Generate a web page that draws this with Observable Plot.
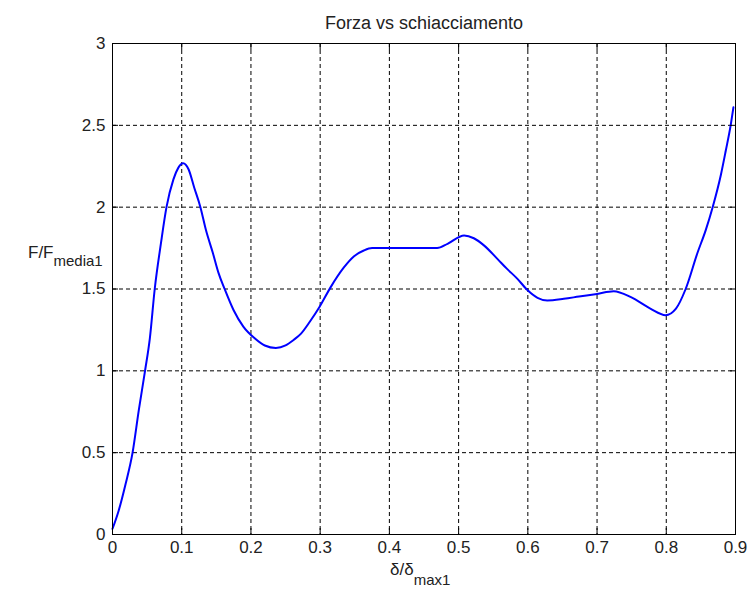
<!DOCTYPE html>
<html>
<head>
<meta charset="utf-8">
<script src="https://cdn.jsdelivr.net/npm/d3@7"></script>
<script src="https://cdn.jsdelivr.net/npm/@observablehq/plot@0.6"></script>
<style>
  html, body { margin: 0; padding: 0; background: #fff; }
  #chart { width: 751px; height: 595px; }
</style>
</head>
<body>
<div id="chart"></div>
<script>
const titleText = "Forza vs schiacciamento";
const xLabelMain = "δ/δ";
const xLabelSub = "max1";
const yLabelMain = "F/F";
const yLabelSub = "media1";

const xTicks = [0, 0.1, 0.2, 0.3, 0.4, 0.5, 0.6, 0.7, 0.8, 0.9];
const yTicks = [0, 0.5, 1, 1.5, 2, 2.5, 3];

const xValues = [0, 0.009, 0.019, 0.029, 0.038, 0.047, 0.054, 0.061, 0.070, 0.078,
  0.088, 0.095, 0.102, 0.110, 0.118, 0.127, 0.135, 0.145, 0.153, 0.162,
  0.175, 0.189, 0.205, 0.220, 0.236, 0.250, 0.262, 0.272, 0.285, 0.299,
  0.315, 0.334, 0.349, 0.363, 0.375, 0.469, 0.484, 0.508, 0.522, 0.537,
  0.556, 0.570, 0.585, 0.599, 0.614, 0.628, 0.652, 0.674, 0.700, 0.724,
  0.749, 0.777, 0.799, 0.814, 0.828, 0.845, 0.857, 0.867, 0.879, 0.886,
  0.893, 0.897];
const yValues = [0.035, 0.147, 0.31, 0.5, 0.76, 1.0, 1.2, 1.5, 1.78, 2.0,
  2.17, 2.24, 2.268, 2.23, 2.12, 2.0, 1.86, 1.72, 1.6, 1.5,
  1.37, 1.27, 1.2, 1.155, 1.14, 1.155, 1.19, 1.226, 1.3, 1.39,
  1.51, 1.63, 1.70, 1.735, 1.75, 1.75, 1.776, 1.827, 1.81, 1.765,
  1.684, 1.623, 1.562, 1.495, 1.446, 1.43, 1.44, 1.454, 1.47, 1.486,
  1.45, 1.38, 1.34, 1.38, 1.50, 1.72, 1.86, 2.0, 2.20, 2.346,
  2.5, 2.61];

const data = xValues.map((x, i) => ({x, y: yValues[i]}));

const font = "Liberation Sans, Arial, Helvetica, sans-serif";
const dash = {stroke: "#000", strokeOpacity: 1, strokeWidth: 1, strokeDasharray: "4,3"};
const fmt = d => String(d);

const chart = Plot.plot({
  width: 751,
  height: 595,
  marginLeft: 112,
  marginRight: 16,
  marginTop: 43,
  marginBottom: 61,
  x: {domain: [0, 0.9]},
  y: {domain: [0, 3]},
  style: {fontFamily: font, fontSize: "17px", color: "#000", background: "#fff", overflow: "visible"},
  marks: [
    Plot.gridX(xTicks, dash),
    Plot.gridY(yTicks, dash),
    Plot.line(data, {x: "x", y: "y", stroke: "#0000ff", strokeWidth: 2, curve: "monotone-x"}),
    Plot.frame({stroke: "#000", strokeWidth: 1}),
    Plot.axisX(xTicks, {anchor: "bottom", tickSize: 6, dy: -6, tickFormat: () => "", label: null, strokeOpacity: 1}),
    Plot.axisX(xTicks, {anchor: "top", tickSize: 6, dy: 6, tickFormat: () => "", label: null, strokeOpacity: 1}),
    Plot.axisY(yTicks, {anchor: "left", tickSize: 6, dx: 6, tickFormat: () => "", label: null, strokeOpacity: 1}),
    Plot.axisY(yTicks, {anchor: "right", tickSize: 6, dx: -6, tickFormat: () => "", label: null, strokeOpacity: 1}),
    Plot.axisX(xTicks, {anchor: "bottom", tickSize: 0, tickPadding: 6, tickFormat: fmt, label: null, fill: "#222"}),
    Plot.axisY(yTicks, {anchor: "left", tickSize: 0, tickPadding: 7, tickFormat: fmt, label: null, fill: "#222"}),
    Plot.text([titleText], {frameAnchor: "top", dy: -15, lineAnchor: "bottom", fontSize: 18, fill: "#222"})
  ]
});

document.getElementById("chart").appendChild(chart);

const svg = d3.select(chart);
// x-axis label with subscript
const xl = svg.append("text")
  .attr("x", 390).attr("y", 575).attr("text-anchor", "start")
  .attr("font-family", font).attr("font-size", 17).attr("fill", "#222");
xl.append("tspan").text(xLabelMain);
xl.append("tspan").attr("dy", 10).attr("font-size", 15).text(xLabelSub);
// y-axis label with subscript
const yl = svg.append("text")
  .attr("x", 28).attr("y", 258).attr("text-anchor", "start")
  .attr("font-family", font).attr("font-size", 17).attr("fill", "#222");
yl.append("tspan").text(yLabelMain);
yl.append("tspan").attr("dy", 8).attr("font-size", 15).text(yLabelSub);
</script>
</body>
</html>
